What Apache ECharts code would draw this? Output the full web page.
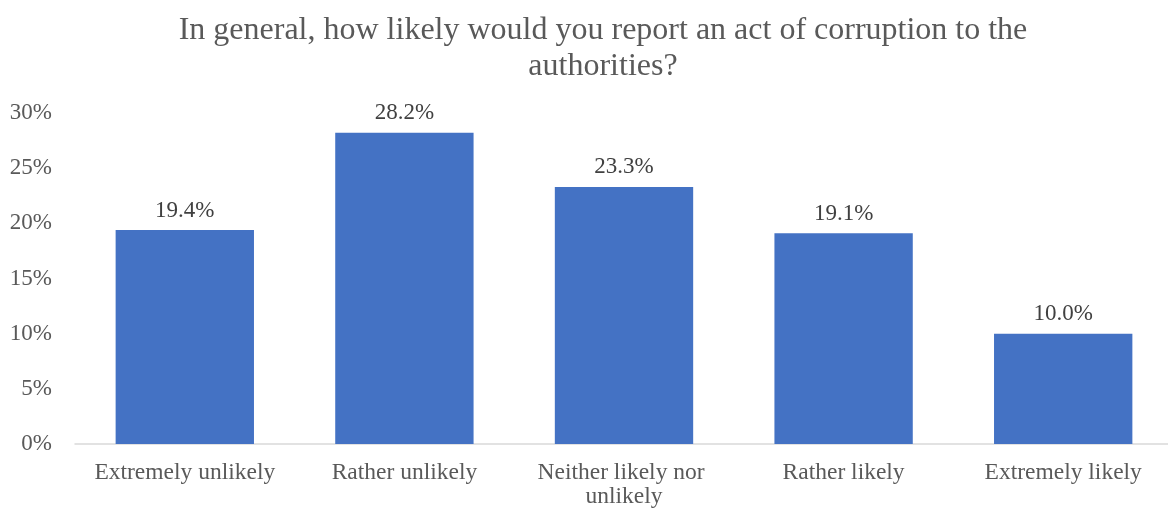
<!DOCTYPE html>
<html>
<head>
<meta charset="utf-8">
<script src="https://cdn.jsdelivr.net/npm/echarts@6/dist/echarts.min.js"></script>
<style>
  html, body { margin: 0; padding: 0; background: #fff; }
  #chart { width: 1168px; height: 511px; }
</style>
</head>
<body>
<div id="chart"></div>
<script>
// Survey answers and their shares (percent of respondents)
const categories = ['Extremely unlikely', 'Rather unlikely', 'Neither likely nor unlikely', 'Rather likely', 'Extremely likely'];
const shares = [19.4, 28.2, 23.3, 19.1, 10.0];
const yTicks = [0, 5, 10, 15, 20, 25, 30];

const serif = '"Liberation Serif", "Times New Roman", serif';

const chart = echarts.init(document.getElementById('chart'), null, { renderer: 'canvas' });
chart.setOption({
  animation: false,
  backgroundColor: '#ffffff',
  title: {
    text: 'In general, how likely would you report an act of corruption to the\nauthorities?',
    left: 598,
    textAlign: 'center',
    top: 8,
    textStyle: {
      fontFamily: serif,
      fontSize: 32,
      fontWeight: 'normal',
      color: '#595959',
      lineHeight: 36
    }
  },
  // plot area runs slightly past the right edge of the canvas
  grid: { left: 75, width: 1098, top: 113, bottom: 67, containLabel: false, outerBoundsMode: 'none' },
  xAxis: {
    type: 'category',
    data: categories,
    axisLine: { lineStyle: { color: '#d9d9d9', width: 1.5 } },
    axisTick: { show: false },
    axisLabel: {
      interval: 0,
      margin: 17,
      fontFamily: serif,
      fontSize: 23.5,
      color: '#595959',
      width: 205,
      overflow: 'break',
      lineHeight: 24
    }
  },
  yAxis: {
    type: 'value',
    min: yTicks[0],
    max: yTicks[yTicks.length - 1],
    interval: 5,
    splitLine: { show: false },
    axisLine: { show: false },
    axisTick: { show: false },
    axisLabel: {
      margin: 23,
      fontFamily: serif,
      fontSize: 23,
      color: '#595959',
      formatter: v => v + '%'
    }
  },
  series: [{
    type: 'bar',
    data: shares,
    barCategoryGap: '37%',
    itemStyle: { color: '#4472c4' },
    label: {
      show: true,
      position: 'top',
      distance: 8,
      fontFamily: serif,
      fontSize: 23,
      color: '#404040',
      formatter: p => p.value.toFixed(1) + '%'
    }
  }]
});
</script>
</body>
</html>
